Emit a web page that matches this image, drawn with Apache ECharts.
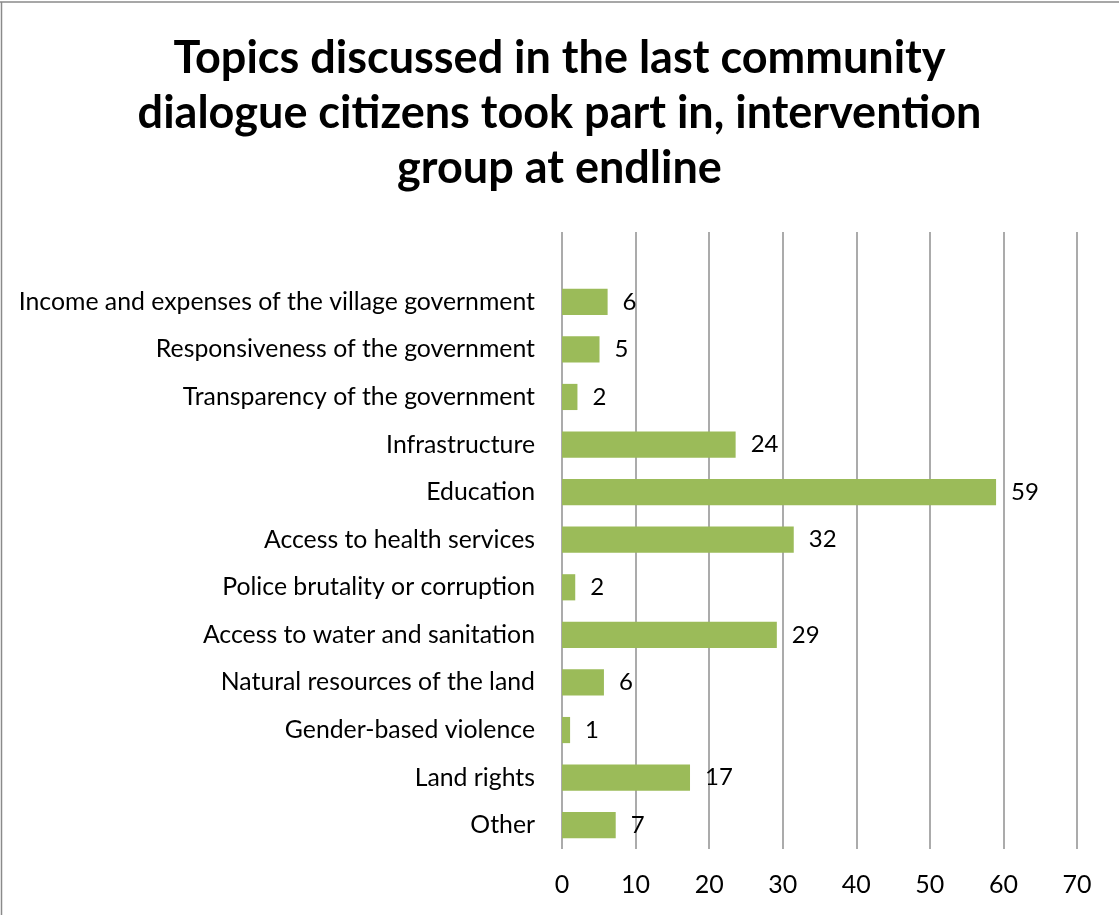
<!DOCTYPE html>
<html>
<head>
<meta charset="utf-8">
<script src="https://cdn.jsdelivr.net/npm/echarts@6/dist/echarts.min.js"></script>
<style>
html,body{margin:0;padding:0;background:#fff;}
#chart{width:1119px;height:915px;}
</style>
</head>
<body>
<div id="chart"></div>
<script>
const titleText = "Topics discussed in the last community\ndialogue citizens took part in, intervention\ngroup at endline";
const categories = [
  "Income and expenses of the village government",
  "Responsiveness of the government",
  "Transparency of the government",
  "Infrastructure",
  "Education",
  "Access to health services",
  "Police brutality or corruption",
  "Access to water and sanitation",
  "Natural resources of the land",
  "Gender-based violence",
  "Land rights",
  "Other"
];
const values = [6.2, 5.1, 2.1, 23.6, 59.0, 31.5, 1.8, 29.2, 5.7, 1.1, 17.4, 7.3];
const axisMin = 0, axisMax = 70, axisStep = 10;

const font = "Lato, 'Open Sans', sans-serif";
const chart = echarts.init(document.getElementById('chart'), null, {renderer: 'canvas'});
chart.setOption({
  animation: false,
  backgroundColor: '#fff',
  title: {
    text: titleText,
    left: 'center',
    top: 26,
    textStyle: {fontFamily: font, fontSize: 45, fontWeight: 'bold', color: '#000', lineHeight: 55}
  },
  graphic: [
    {type: 'line', shape: {x1: 0, y1: 2, x2: 1119, y2: 2}, style: {stroke: '#8a8a8a', lineWidth: 1.5}, silent: true},
    {type: 'line', shape: {x1: 1.5, y1: 2, x2: 1.5, y2: 915}, style: {stroke: '#8a8a8a', lineWidth: 1.5}, silent: true}
  ],
  grid: [
    {left: 562, right: 42, top: 278, bottom: 66, containLabel: false},
    {left: 562, right: 42, top: 232, bottom: 66, containLabel: false}
  ],
  xAxis: [{
    type: 'value', gridIndex: 0,
    min: axisMin, max: axisMax, interval: axisStep,
    axisLine: {show: false},
    axisTick: {show: false},
    splitLine: {show: false},
    axisLabel: {fontFamily: font, fontSize: 25, color: '#000', margin: 23}
  }, {
    type: 'value', gridIndex: 1,
    min: axisMin, max: axisMax, interval: axisStep,
    axisLine: {show: false},
    axisTick: {show: false},
    axisLabel: {show: false},
    splitLine: {show: true, lineStyle: {color: '#8f8f8f', width: 1.5}}
  }],
  yAxis: [{
    type: 'category', gridIndex: 0,
    data: categories,
    inverse: true,
    axisLine: {show: false},
    axisTick: {show: false},
    axisLabel: {fontFamily: font, fontSize: 24.8, color: '#000', margin: 27}
  }, {
    type: 'category', gridIndex: 1,
    data: categories,
    show: false
  }],
  series: [{
    type: 'bar',
    xAxisIndex: 0, yAxisIndex: 0,
    data: values,
    barWidth: '55%',
    z: 3,
    itemStyle: {color: '#9bbb59'},
    label: {
      show: true,
      position: 'right',
      distance: 15,
      fontFamily: font,
      fontSize: 24,
      color: '#000',
      formatter: p => Math.round(p.value)
    }
  }]
});
</script>
</body>
</html>
